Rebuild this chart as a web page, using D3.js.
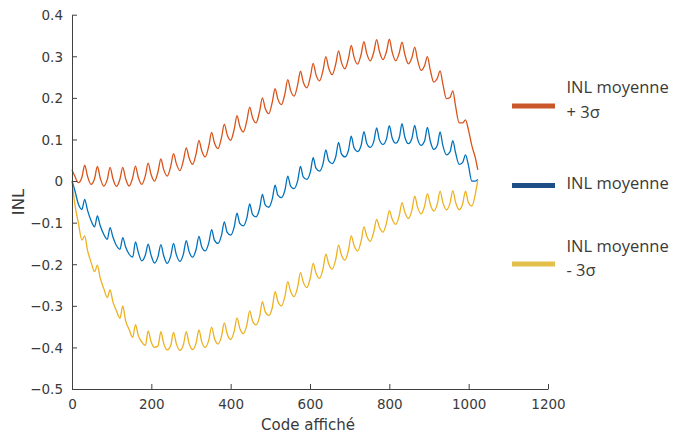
<!DOCTYPE html>
<html>
<head>
<meta charset="utf-8">
<script src="https://cdn.jsdelivr.net/npm/d3@7"></script>
<style>
  html, body { margin: 0; padding: 0; background: #ffffff; }
  svg { display: block; }
</style>
</head>
<body>
<svg id="chart" width="673" height="434"></svg>
<script>
// ---------- Data ----------
// Each period of 32 codes is sampled at: the spike top, just after the spike,
// the middle of the scallop and just before the next spike.
const periodStarts = [0,32,64,96,128,160,192,224,256,288,320,352,384,416,448,480,
                      512,544,576,608,640,672,704,736,768,800,832,864,896,928,960,992];
const sampleOffsets = [0, 7, 16, 25];
const lastCode = 1023;

// INL moyenne + 3σ
const redPeak   = [0.027,0.038,0.035,0.033,0.033,0.036,0.043,0.053,0.066,0.080,0.098,0.117,0.137,0.157,0.178,0.200,
                   0.222,0.244,0.264,0.283,0.299,0.313,0.326,0.335,0.340,0.341,0.334,0.322,0.299,0.265,0.217,0.147];
const redPost   = [0.012,0.012,0.008,0.006,0.006,0.009,0.017,0.028,0.042,0.056,0.073,0.092,0.112,0.132,0.153,0.175,
                   0.197,0.218,0.238,0.256,0.272,0.286,0.298,0.307,0.312,0.311,0.305,0.292,0.268,0.233,0.180,0.125];
const redTrough = [-0.004,-0.008,-0.012,-0.013,-0.012,-0.008,0.000,0.012,0.025,0.040,0.058,0.078,0.098,0.118,0.140,0.162,
                   0.184,0.204,0.224,0.241,0.256,0.270,0.281,0.289,0.292,0.289,0.282,0.266,0.238,0.198,0.140,0.085];
const redPre    = [0.009,0.006,0.004,0.005,0.008,0.013,0.023,0.036,0.050,0.066,0.085,0.105,0.125,0.146,0.168,0.190,
                   0.211,0.232,0.251,0.267,0.282,0.295,0.305,0.311,0.312,0.308,0.297,0.278,0.247,0.201,0.140,0.055];
const redEnd = 0.027;

// INL moyenne
const bluePeak   = [0.000,-0.044,-0.084,-0.112,-0.136,-0.146,-0.152,-0.153,-0.150,-0.143,-0.133,-0.117,-0.098,-0.077,-0.055,-0.032,
                    -0.010,0.012,0.035,0.056,0.075,0.093,0.108,0.119,0.128,0.133,0.138,0.134,0.129,0.118,0.097,0.063];
const bluePost   = [-0.022,-0.070,-0.107,-0.134,-0.158,-0.171,-0.177,-0.179,-0.177,-0.169,-0.158,-0.142,-0.123,-0.102,-0.080,-0.057,
                    -0.034,-0.012,0.010,0.031,0.049,0.066,0.080,0.091,0.099,0.104,0.106,0.102,0.097,0.085,0.068,0.040];
const blueTrough = [-0.055,-0.095,-0.128,-0.155,-0.176,-0.192,-0.197,-0.198,-0.193,-0.183,-0.168,-0.150,-0.130,-0.108,-0.086,-0.063,
                    -0.040,-0.018,0.004,0.024,0.042,0.058,0.071,0.081,0.088,0.091,0.090,0.086,0.076,0.063,0.040,0.000];
const bluePre    = [-0.068,-0.110,-0.140,-0.164,-0.183,-0.178,-0.181,-0.180,-0.175,-0.164,-0.148,-0.130,-0.110,-0.088,-0.066,-0.043,
                    -0.021,0.001,0.022,0.042,0.059,0.074,0.086,0.096,0.102,0.104,0.103,0.097,0.086,0.070,0.045,0.000];
const blueEnd = 0.004;

// INL moyenne - 3σ
const yelPeak   = [0.000,-0.132,-0.202,-0.262,-0.300,-0.345,-0.360,-0.362,-0.364,-0.362,-0.358,-0.351,-0.341,-0.329,-0.312,-0.290,
                   -0.266,-0.242,-0.220,-0.198,-0.176,-0.154,-0.132,-0.110,-0.092,-0.071,-0.052,-0.036,-0.030,-0.024,-0.023,-0.024];
const yelPost   = [-0.055,-0.166,-0.233,-0.290,-0.335,-0.371,-0.385,-0.390,-0.391,-0.390,-0.386,-0.378,-0.367,-0.354,-0.336,-0.314,
                   -0.289,-0.265,-0.243,-0.221,-0.199,-0.177,-0.155,-0.132,-0.111,-0.091,-0.075,-0.062,-0.055,-0.052,-0.051,-0.051];
const yelTrough = [-0.100,-0.195,-0.258,-0.312,-0.357,-0.387,-0.400,-0.406,-0.407,-0.405,-0.400,-0.392,-0.381,-0.367,-0.346,-0.323,
                   -0.300,-0.278,-0.256,-0.234,-0.212,-0.190,-0.168,-0.145,-0.123,-0.104,-0.090,-0.079,-0.072,-0.069,-0.069,-0.060];
const yelPre    = [-0.142,-0.218,-0.280,-0.330,-0.376,-0.395,-0.396,-0.395,-0.393,-0.389,-0.382,-0.373,-0.361,-0.345,-0.326,-0.304,
                   -0.276,-0.254,-0.232,-0.210,-0.188,-0.166,-0.144,-0.121,-0.100,-0.083,-0.070,-0.060,-0.055,-0.053,-0.054,-0.030];
const yelEnd = 0.002;

const xTicks = [0,200,400,600,800,1000,1200];
const xTickLabels = ["0","200","400","600","800","1000","1200"];
const yTicks = [-0.5,-0.4,-0.3,-0.2,-0.1,0,0.1,0.2,0.3,0.4];
const yTickLabels = ["\u22120.5","\u22120.4","\u22120.3","\u22120.2","\u22120.1","0","0.1","0.2","0.3","0.4"];
const xLabel = "Code affiché";
const yLabel = "INL";
const legendLines = [["INL moyenne","+ 3σ"],["INL moyenne"],["INL moyenne","- 3σ"]];

// ---------- Build series ----------
function buildSeries(peak, post, trough, pre, endVal) {
  const cols = [peak, post, trough, pre];
  const pts = [];
  periodStarts.forEach((s, k) => {
    sampleOffsets.forEach((o, j) => pts.push([s + o, cols[j][k]]));
  });
  pts.push([lastCode, endVal]);
  return pts;
}
const series = [
  {data: buildSeries(redPeak, redPost, redTrough, redPre, redEnd),   color: "#D95319", legendColor: "#C9572A"},
  {data: buildSeries(bluePeak, bluePost, blueTrough, bluePre, blueEnd), color: "#0072BD", legendColor: "#1D4F86"},
  {data: buildSeries(yelPeak, yelPost, yelTrough, yelPre, yelEnd),   color: "#EDB120", legendColor: "#E3C04A"}
];

// ---------- Layout ----------
const svg = d3.select("#chart");
const plot = {left: 72, right: 548, top: 14.7, bottom: 389};
const x = d3.scaleLinear().domain([0, 1200]).range([plot.left, plot.right]);
const y = d3.scaleLinear().domain([-0.5, 0.4]).range([plot.bottom, plot.top]);
const axisColor = "#404040";
const tickFont = "'DejaVu Sans', sans-serif";

// lines
const line = d3.line().x(d => x(d[0])).y(d => y(d[1])).curve(d3.curveMonotoneX);
svg.append("g").selectAll("path").data(series).join("path")
  .attr("d", d => line(d.data))
  .attr("fill", "none")
  .attr("stroke", d => d.color)
  .attr("stroke-width", 1.3)
  .attr("stroke-linejoin", "round");

// axes
const xAxis = d3.axisBottom(x).tickValues(xTicks)
  .tickFormat((d, i) => xTickLabels[i]).tickSizeInner(-5).tickSizeOuter(0).tickPadding(10);
const yAxis = d3.axisLeft(y).tickValues(yTicks)
  .tickFormat((d, i) => yTickLabels[i]).tickSizeInner(-5).tickSizeOuter(0).tickPadding(9);

const gx = svg.append("g").attr("transform", `translate(0,${plot.bottom})`).call(xAxis);
const gy = svg.append("g").attr("transform", `translate(${plot.left},0)`).call(yAxis);
[gx, gy].forEach(g => {
  g.select(".domain").attr("stroke", axisColor).attr("stroke-width", 1);
  g.selectAll(".tick line").attr("stroke", axisColor).attr("stroke-width", 1);
  g.selectAll(".tick text").attr("fill", "#3a3a3a")
    .style("font-family", tickFont).style("font-size", "13.5px");
});
gy.selectAll(".tick text").attr("dy", "0.36em");

// axis labels
svg.append("text")
  .attr("x", 308).attr("y", 430)
  .attr("text-anchor", "middle")
  .style("font-family", tickFont).style("font-size", "15px")
  .attr("fill", "#3a3a3a")
  .text(xLabel);
svg.append("text")
  .attr("transform", "translate(24,202) rotate(-90)")
  .attr("text-anchor", "middle")
  .style("font-family", tickFont).style("font-size", "16.5px")
  .attr("fill", "#3a3a3a")
  .text(yLabel);

// legend
const legendY = [106, 185.5, 264];
const legendTextY = [[87, 112.5], [183.5], [246, 270.5]];
const lg = svg.append("g");
series.forEach((s, i) => {
  lg.append("line")
    .attr("x1", 512).attr("x2", 555)
    .attr("y1", legendY[i]).attr("y2", legendY[i])
    .attr("stroke", s.legendColor).attr("stroke-width", 5);
  legendLines[i].forEach((t, j) => {
    lg.append("text")
      .attr("x", 566.5).attr("y", legendTextY[i][j])
      .attr("dy", "0.36em")
      .style("font-family", "'Open Sans', sans-serif").style("font-size", "16.5px")
      .attr("fill", "#3a3a3a")
      .text(t);
  });
});
</script>
</body>
</html>
